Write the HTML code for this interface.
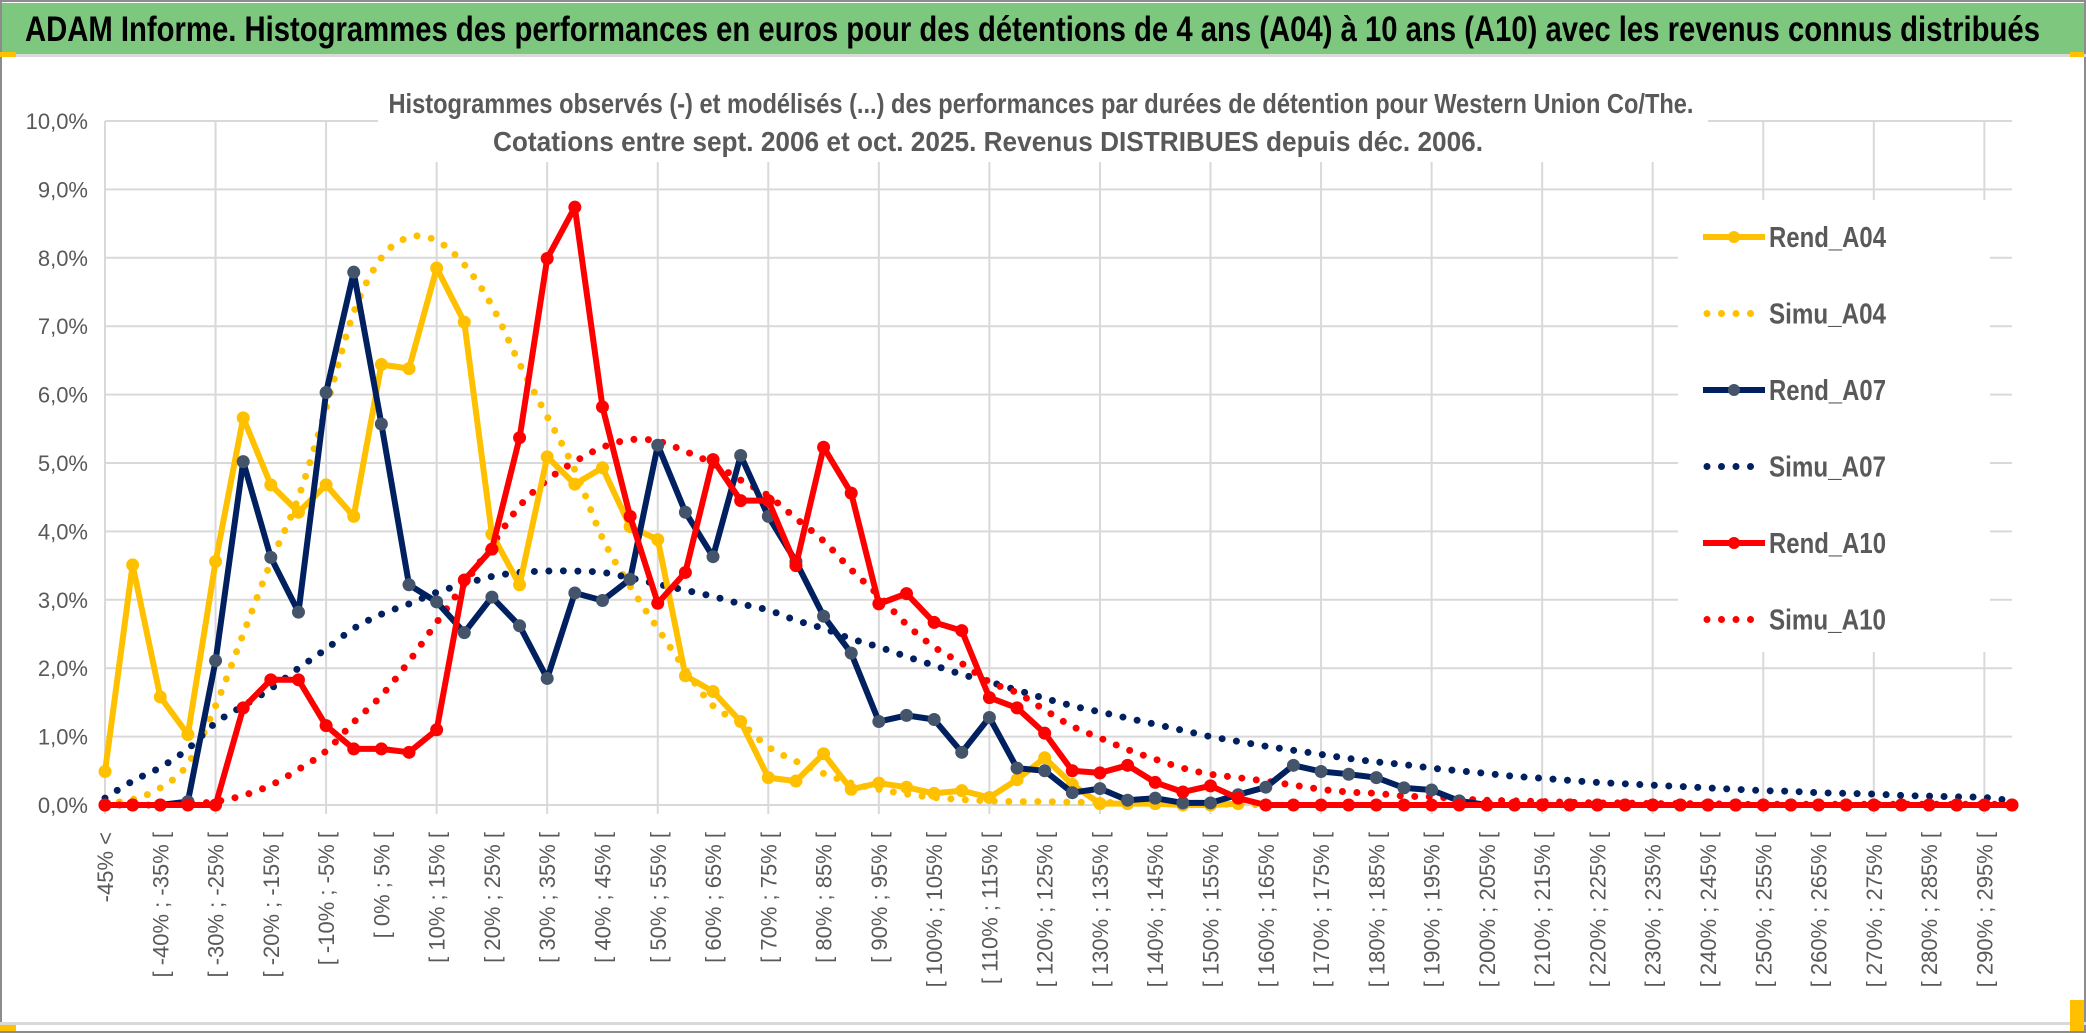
<!DOCTYPE html>
<html><head><meta charset="utf-8">
<style>
html,body{margin:0;padding:0;background:#fff;}
body{width:2086px;height:1033px;overflow:hidden;position:relative;font-family:"Liberation Sans Narrow","Liberation Sans",sans-serif;}
svg{position:absolute;left:0;top:0;}
</style></head>
<body>
<svg id="chart" width="2086" height="1033" viewBox="0 0 2086 1033" xmlns="http://www.w3.org/2000/svg">
  <rect x="0" y="0" width="2086" height="1033" fill="#ffffff"/>
  <rect x="1" y="1" width="2084" height="1031" fill="none" stroke="#8c8c8c" stroke-width="2"/>
  <rect x="2" y="3" width="2082" height="51" fill="#7ec77f"/>
  <text x="25" y="41" font-family="'Liberation Sans Narrow','Liberation Sans',sans-serif" font-weight="bold" font-size="35" fill="#000" textLength="2015" lengthAdjust="spacingAndGlyphs">ADAM Informe. Histogrammes des performances en euros pour des détentions de 4 ans (A04) à 10 ans (A10) avec les revenus connus distribués</text>
  <rect x="0" y="54" width="2086" height="3" fill="#d9d9d9"/>
  <rect x="0" y="52" width="16" height="5" fill="#ffc000"/>
  <rect x="2070" y="52" width="14" height="5" fill="#ffc000"/>
  <rect x="0" y="1022" width="2086" height="3" fill="#d9d9d9"/>
  <rect x="0" y="1025" width="16" height="6" fill="#ffc000"/>
  <rect x="2070" y="1000" width="14" height="31" fill="#ffc000"/>
  <g id="grid"></g>
  <g id="yaxis"></g>
  <g id="xaxis"></g>
  <rect x="378" y="82" width="1330" height="80" fill="#fff"/>
  <text x="1041" y="113" text-anchor="middle" font-size="28" font-weight="bold" fill="#595959" textLength="1305" lengthAdjust="spacingAndGlyphs">Histogrammes observés (-) et modélisés (...) des performances par durées de détention pour Western Union Co/The.</text>
  <text x="988" y="151" text-anchor="middle" font-size="28" font-weight="bold" fill="#595959" textLength="990" lengthAdjust="spacingAndGlyphs">Cotations entre sept. 2006 et oct. 2025. Revenus DISTRIBUES depuis déc. 2006.</text>
  <rect x="1678" y="200" width="312" height="452" fill="#fff"/>
  <g id="series"></g>
  <g id="legend"></g>
</svg>
<script>
const categories = (function(){const c=["-45% <"];for(let a=-45;a<=295;a+=5){c.push("[ "+a+"% ; "+(a+5)+"% [");}return c;})();
const yTicks = [0,1,2,3,4,5,6,7,8,9,10];
const yTickLabels = ["0,0%","1,0%","2,0%","3,0%","4,0%","5,0%","6,0%","7,0%","8,0%","9,0%","10,0%"];
const rendA04 = [0.49,3.51,1.58,1.03,3.56,5.66,4.68,4.28,4.68,4.22,6.44,6.38,7.85,7.06,3.96,3.22,5.09,4.69,4.93,4.07,3.88,1.89,1.66,1.22,0.4,0.35,0.75,0.23,0.32,0.26,0.17,0.21,0.11,0.37,0.69,0.3,0.02,0.02,0.02,0,0,0.02,0,0,0,0,0,0,0,0,0,0,0,0,0,0,0,0,0,0,0,0,0,0,0,0,0,0,0,0];
const simuA04 = [0.02,0.08,0.25,0.6,1.45,2.5,3.55,4.5,5.8,7.2,8.0,8.3,8.25,7.9,7.3,6.45,5.68,4.9,3.9,3.2,2.58,1.98,1.45,1.2,0.85,0.64,0.46,0.32,0.23,0.16,0.11,0.08,0.06,0.05,0.05,0.04,0.04,0.03,0.02,0.02,0.01,0.01,0,0,0,0,0,0,0,0,0,0,0,0,0,0,0,0,0,0,0,0,0,0,0,0,0,0,0,0];
const rendA07 = [0,0,0,0.05,2.11,5.02,3.62,2.82,6.03,7.79,5.57,3.22,2.97,2.52,3.04,2.62,1.85,3.1,2.99,3.3,5.26,4.28,3.63,5.11,4.22,3.56,2.76,2.22,1.22,1.31,1.25,0.77,1.28,0.54,0.5,0.18,0.24,0.07,0.1,0.03,0.03,0.15,0.26,0.58,0.49,0.45,0.4,0.25,0.22,0.06,0,0,0,0,0,0,0,0,0,0,0,0,0,0,0,0,0,0,0,0];
const simuA07 = [0.1,0.35,0.55,0.82,1.2,1.45,1.7,2.0,2.28,2.58,2.79,2.94,3.11,3.23,3.34,3.4,3.42,3.42,3.4,3.32,3.23,3.14,3.05,2.94,2.85,2.7,2.58,2.43,2.31,2.17,2.04,1.91,1.8,1.68,1.56,1.45,1.36,1.27,1.18,1.09,1.0,0.93,0.86,0.8,0.74,0.68,0.63,0.59,0.54,0.5,0.46,0.42,0.39,0.36,0.33,0.31,0.29,0.27,0.25,0.23,0.21,0.2,0.18,0.17,0.16,0.14,0.13,0.12,0.11,0.06];
const rendA10 = [0,0,0,0,0,1.42,1.83,1.83,1.16,0.82,0.82,0.77,1.1,3.29,3.74,5.37,7.99,8.74,5.82,4.22,2.95,3.4,5.05,4.45,4.45,3.5,5.23,4.56,2.94,3.09,2.67,2.55,1.57,1.42,1.05,0.5,0.47,0.58,0.33,0.19,0.28,0.1,0,0,0,0,0,0,0,0,0,0,0,0,0,0,0,0,0,0,0,0,0,0,0,0,0,0,0,0];
const simuA10 = [0,0,0,0.02,0.05,0.14,0.29,0.52,0.79,1.21,1.6,2.1,2.67,3.23,3.8,4.37,4.75,5.02,5.23,5.34,5.32,5.17,4.99,4.75,4.52,4.19,3.86,3.44,3.06,2.64,2.31,2.07,1.8,1.64,1.39,1.15,0.98,0.81,0.67,0.54,0.45,0.4,0.35,0.29,0.23,0.19,0.17,0.13,0.12,0.09,0.07,0.06,0.05,0.04,0.03,0.03,0.02,0.02,0.02,0.01,0.01,0.01,0.01,0.01,0.01,0.01,0.01,0.01,0.01,0.01];
const seriesNames = ["Rend_A04","Simu_A04","Rend_A07","Simu_A07","Rend_A10","Simu_A10"];

const NS="http://www.w3.org/2000/svg";
const X0=105, X1=2012, Y0=805, Y10=121;
function xPos(i){return X0+(X1-X0)*i/(categories.length-1);}
function yPos(v){return Y0-(Y0-Y10)*v/10;}
function mk(tag,attrs,parent){const e=document.createElementNS(NS,tag);for(const k in attrs)e.setAttribute(k,attrs[k]);parent.appendChild(e);return e;}

const grid=document.getElementById('grid');
yTicks.forEach(function(t){
  const l=mk('line',{x1:X0,x2:X1,y1:yPos(t),y2:yPos(t),stroke:'#d9d9d9','stroke-width':2},grid);
  
  
});
categories.forEach(function(c,i){
  if(i%4===0){
    const l=mk('line',{x1:xPos(i),x2:xPos(i),y1:Y10,y2:Y0+9,stroke:'#d9d9d9','stroke-width':2},grid);
    
    
  }
});
const yaxis=document.getElementById('yaxis');
yTicks.forEach(function(t,k){
  const tx=mk('text',{x:88,y:yPos(t)+8,'text-anchor':'end','font-size':22,fill:'#595959','font-family':"'Liberation Sans Narrow','Liberation Sans',sans-serif"},yaxis);
  tx.textContent=yTickLabels[k];
  
  
});
const xaxis=document.getElementById('xaxis');
categories.forEach(function(c,i){
  if(i%2!==0) return;
  const x=xPos(i)+8, y=832;
  const tx=mk('text',{x:x,y:y,transform:'rotate(-90 '+x+' '+y+')','text-anchor':'end','font-size':22,fill:'#595959','font-family':"'Liberation Sans','DejaVu Sans',sans-serif"},xaxis);
  tx.textContent=c;
  
  
});

function straightPath(vals){return vals.map(function(v,i){return (i?'L':'M')+xPos(i).toFixed(1)+' '+yPos(v).toFixed(1);}).join(' ');}
function smoothPath(vals){
  const p=vals.map(function(v,i){return [xPos(i),yPos(v)];});
  let d='M'+p[0][0]+' '+p[0][1];
  for(let i=0;i<p.length-1;i++){
    const p0=p[Math.max(0,i-1)],p1=p[i],p2=p[i+1],p3=p[Math.min(p.length-1,i+2)];
    const c1=[p1[0]+(p2[0]-p0[0])/6,p1[1]+(p2[1]-p0[1])/6];
    const c2=[p2[0]-(p3[0]-p1[0])/6,p2[1]-(p3[1]-p1[1])/6];
    d+=' C'+c1[0].toFixed(1)+' '+c1[1].toFixed(1)+' '+c2[0].toFixed(1)+' '+c2[1].toFixed(1)+' '+p2[0].toFixed(1)+' '+p2[1].toFixed(1);
  }
  return d;
}
const series=document.getElementById('series');
function lastNonZero(vals){let k=vals.length-1;while(k>0&&vals[k]===0)k--;return k;}
function drawSim(vals,color,name,trim){
  const v=trim?vals.slice(0,lastNonZero(vals)+2):vals;
  const p=mk('path',{d:smoothPath(v),fill:'none',stroke:color,'stroke-width':7,'stroke-linecap':'round','stroke-dasharray':'0 14.5'},series);
  
  
}
function drawRend(vals,color,mcolor,name){
  const g=mk('g',{},series);
  
  
  mk('path',{d:straightPath(vals),fill:'none',stroke:color,'stroke-width':6,'stroke-linejoin':'round'},g);
  vals.forEach(function(v,i){
    const c=mk('circle',{cx:xPos(i),cy:yPos(v),r:6.5,fill:mcolor},g);
    
    
  });
}
drawSim(simuA04,'#ffc000','simu-a04-line',true);
drawSim(simuA07,'#002060','simu-a07-line',false);
drawSim(simuA10,'#ff0000','simu-a10-line',false);
drawRend(rendA04.slice(0,42),'#ffc000','#ffc000','rend-a04-line');
drawRend(rendA07,'#002060','#44546a','rend-a07-line');
drawRend(rendA10,'#ff0000','#ff0000','rend-a10-line');

const legend=document.getElementById('legend');
const legColors=['#ffc000','#ffc000','#002060','#002060','#ff0000','#ff0000'];
const legDot=[false,true,false,true,false,true];
seriesNames.forEach(function(n,k){
  const y=237+k*76.5;
  const g=mk('g',{},legend);
  
  
  if(legDot[k]){
    mk('line',{x1:1707,x2:1757,y1:y,y2:y,stroke:legColors[k],'stroke-width':7,'stroke-linecap':'round','stroke-dasharray':'0 14.5'},g);
  } else {
    mk('line',{x1:1703,x2:1765,y1:y,y2:y,stroke:legColors[k],'stroke-width':6},g);
    mk('circle',{cx:1734,cy:y,r:6,fill:k===2?'#44546a':legColors[k]},g);
  }
  const t=mk('text',{x:1769,y:y+10,'font-size':29,'font-weight':'bold',fill:'#595959','font-family':"'Liberation Sans Narrow','Liberation Sans',sans-serif",textLength:117,lengthAdjust:'spacingAndGlyphs'},g);
  t.textContent=n;
});
</script>
</body></html>
